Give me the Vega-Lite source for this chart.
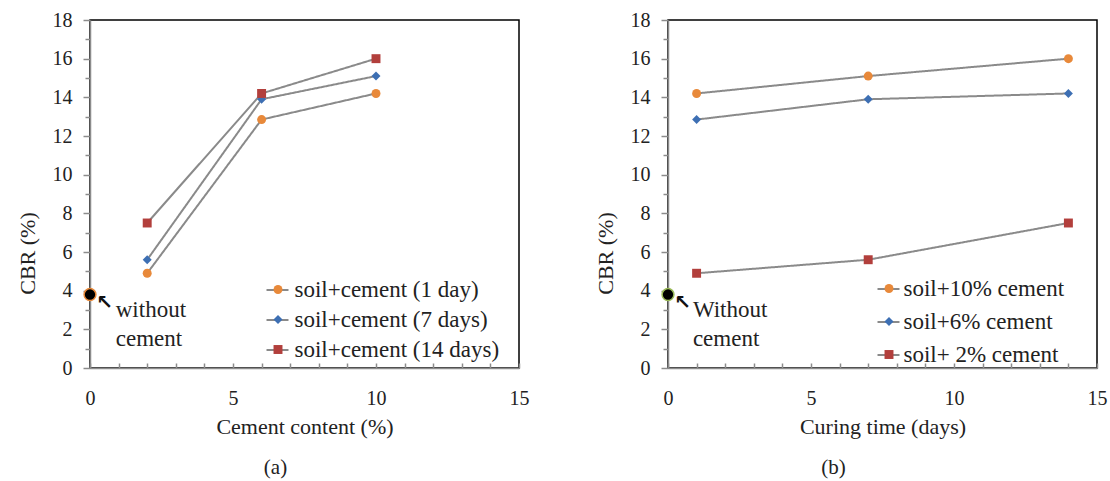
{
  "$schema": "https://vega.github.io/schema/vega-lite/v6.json",
  "padding": {"left": 15, "top": 9, "right": 0, "bottom": 0},
  "spacing": 63,
  "resolve": {
    "scale": {"color": "independent", "shape": "independent", "strokeDash": "independent"},
    "legend": {"color": "independent", "shape": "independent", "strokeDash": "independent"}
  },
  "config": {
    "font": "Liberation Serif",
    "view": {"stroke": "#000", "strokeWidth": 1.5},
    "axis": {
      "grid": false,
      "labelFlush": false,
      "domainColor": "#8c8c8c",
      "domainWidth": 1.5,
      "tickColor": "#8c8c8c",
      "tickWidth": 1.5,
      "labelColor": "#222",
      "labelFontSize": 20,
      "labelFont": "Liberation Serif",
      "titleColor": "#222",
      "titleFontSize": 22,
      "titleFontWeight": "normal",
      "titleFont": "Liberation Serif"
    },
    "legend": {"labelFont": "Liberation Serif", "labelFontSize": 23, "labelColor": "#222", "labelLimit": 400},
    "title": {"font": "Liberation Serif", "fontSize": 21, "fontWeight": "normal", "color": "#222"}
  },
  "datasets": {
    "seriesA": [
      {"x": 2, "y": 4.9, "s": "soil+cement (1 day)", "g": "soil+cement (1 day)"},
      {"x": 6, "y": 12.85, "s": "soil+cement (1 day)", "g": "soil+cement (1 day)"},
      {"x": 10, "y": 14.2, "s": "soil+cement (1 day)", "g": "soil+cement (1 day)"},
      {"x": 2, "y": 5.6, "s": "soil+cement (7 days)", "g": "soil+cement (7 days)"},
      {"x": 6, "y": 13.9, "s": "soil+cement (7 days)", "g": "soil+cement (7 days)"},
      {"x": 10, "y": 15.1, "s": "soil+cement (7 days)", "g": "soil+cement (7 days)"},
      {"x": 2, "y": 7.5, "s": "soil+cement (14 days)", "g": "soil+cement (14 days)"},
      {"x": 6, "y": 14.2, "s": "soil+cement (14 days)", "g": "soil+cement (14 days)"},
      {"x": 10, "y": 16.0, "s": "soil+cement (14 days)", "g": "soil+cement (14 days)"}
    ],
    "seriesB": [
      {"x": 1, "y": 14.2, "s": "soil+10% cement", "g": "soil+10% cement"},
      {"x": 7, "y": 15.1, "s": "soil+10% cement", "g": "soil+10% cement"},
      {"x": 14, "y": 16.0, "s": "soil+10% cement", "g": "soil+10% cement"},
      {"x": 1, "y": 12.85, "s": "soil+6% cement", "g": "soil+6% cement"},
      {"x": 7, "y": 13.9, "s": "soil+6% cement", "g": "soil+6% cement"},
      {"x": 14, "y": 14.2, "s": "soil+6% cement", "g": "soil+6% cement"},
      {"x": 1, "y": 4.9, "s": "soil+ 2% cement", "g": "soil+ 2% cement"},
      {"x": 7, "y": 5.6, "s": "soil+ 2% cement", "g": "soil+ 2% cement"},
      {"x": 14, "y": 7.5, "s": "soil+ 2% cement", "g": "soil+ 2% cement"}
    ],
    "base": [{"x": 0, "y": 3.8}],
    "notesA": [
      {"x": 0.9, "y": 3.0, "t": "without"},
      {"x": 0.9, "y": 1.5, "t": "cement"}
    ],
    "notesB": [
      {"x": 0.87, "y": 3.0, "t": "Without"},
      {"x": 0.87, "y": 1.5, "t": "cement"}
    ],
    "arrow": [{"x": 0.5, "y": 3.35, "t": "↖"}]
  },
  "hconcat": [
    {
      "width": 429,
      "height": 348,
      "title": {"text": "(a)", "orient": "bottom", "dx": -29, "offset": 20},
      "encoding": {
        "x": {"field": "x", "type": "quantitative",
          "scale": {"domain": [0, 15], "nice": false, "zero": false},
          "axis": {"title": "Cement content (%)", "values": [0,1,2,3,4,5,6,7,8,9,10,11,12,13,14,15],
            "labelExpr": "datum.value % 5 === 0 ? datum.label : ''", "tickSize": -5, "labelPadding": 25, "titlePadding": 8}},
        "y": {"field": "y", "type": "quantitative",
          "scale": {"domain": [0, 18], "nice": false},
          "axis": {"title": "CBR (%)", "values": [0,1,2,3,4,5,6,7,8,9,10,11,12,13,14,15,16,17,18],
            "labelExpr": "datum.value % 2 === 0 ? datum.label : ''",
            "tickSize": {"condition": {"test": "datum.value % 2 === 0", "value": 7}, "value": 5},
            "labelPadding": 11, "titlePadding": 13, "titleY": 233}}
      },
      "layer": [
        {
          "data": {"name": "seriesA"},
          "mark": {"type": "line", "color": "#8a8a8a", "strokeWidth": 2},
          "encoding": {
            "strokeDash": {"field": "g", "type": "nominal",
              "sort": ["soil+cement (1 day)", "soil+cement (7 days)", "soil+cement (14 days)"],
              "scale": {"range": [[1, 0], [1, 0], [1, 0]]},
              "legend": {"orient": "none", "legendX": 175.5, "legendY": 258, "title": null,
                "symbolType": "stroke", "symbolSize": 484, "symbolStrokeColor": "#8a8a8a", "symbolStrokeWidth": 2,
                "labelExpr": "''", "rowPadding": 6, "labelOffset": 5, "zindex": 1}}
          }
        },
        {
          "data": {"name": "seriesA"},
          "mark": {"type": "point", "filled": true, "opacity": 1, "size": 80},
          "encoding": {
            "color": {"field": "s", "type": "nominal",
              "scale": {"domain": ["soil+cement (1 day)", "soil+cement (7 days)", "soil+cement (14 days)"],
                "range": ["#E8893A", "#3D6FB3", "#B23F3C"]},
              "legend": {"orient": "none", "legendX": 176.5, "legendY": 258, "title": null,
                "symbolSize": 80, "rowPadding": 6, "labelOffset": 5, "zindex": 2}},
            "shape": {"field": "s", "type": "nominal",
              "scale": {"domain": ["soil+cement (1 day)", "soil+cement (7 days)", "soil+cement (14 days)"],
                "range": ["circle", "diamond", "square"]},
              "legend": {"orient": "none", "legendX": 176.5, "legendY": 258, "title": null,
                "symbolSize": 80, "rowPadding": 6, "labelOffset": 5, "zindex": 2}}
          }
        },
        {
          "data": {"name": "base"},
          "mark": {"type": "point", "filled": true, "fill": "#000", "stroke": "#E8893A", "strokeWidth": 1.5, "size": 140, "opacity": 1}
        },
        {
          "data": {"name": "notesA"},
          "mark": {"type": "text", "align": "left", "baseline": "middle", "fontSize": 23, "font": "Liberation Serif", "color": "#222"},
          "encoding": {"text": {"field": "t"}}
        },
        {
          "data": {"name": "arrow"},
          "mark": {"type": "text", "align": "center", "baseline": "middle", "fontSize": 20, "font": "DejaVu Sans", "fontWeight": "bold", "color": "#111"},
          "encoding": {"text": {"field": "t"}}
        }
      ]
    },
    {
      "width": 429,
      "height": 348,
      "title": {"text": "(b)", "orient": "bottom", "dx": -49, "offset": 20},
      "encoding": {
        "x": {"field": "x", "type": "quantitative",
          "scale": {"domain": [0, 15], "nice": false, "zero": false},
          "axis": {"title": "Curing time (days)", "values": [0,1,2,3,4,5,6,7,8,9,10,11,12,13,14,15],
            "labelExpr": "datum.value % 5 === 0 ? datum.label : ''", "tickSize": -5, "labelPadding": 25, "titlePadding": 8}},
        "y": {"field": "y", "type": "quantitative",
          "scale": {"domain": [0, 18], "nice": false},
          "axis": {"title": "CBR (%)", "values": [0,1,2,3,4,5,6,7,8,9,10,11,12,13,14,15,16,17,18],
            "labelExpr": "datum.value % 2 === 0 ? datum.label : ''",
            "tickSize": {"condition": {"test": "datum.value % 2 === 0", "value": 7}, "value": 5},
            "labelPadding": 11, "titlePadding": 13, "titleY": 233}}
      },
      "layer": [
        {
          "data": {"name": "seriesB"},
          "mark": {"type": "line", "color": "#8a8a8a", "strokeWidth": 2},
          "encoding": {
            "strokeDash": {"field": "g", "type": "nominal",
              "sort": ["soil+10% cement", "soil+6% cement", "soil+ 2% cement"],
              "scale": {"range": [[1, 0], [1, 0], [1, 0]]},
              "legend": {"orient": "none", "legendX": 208.5, "legendY": 257, "title": null,
                "symbolType": "stroke", "symbolSize": 484, "symbolStrokeColor": "#8a8a8a", "symbolStrokeWidth": 2,
                "labelExpr": "''", "rowPadding": 9, "labelOffset": 3, "zindex": 1}}
          }
        },
        {
          "data": {"name": "seriesB"},
          "mark": {"type": "point", "filled": true, "opacity": 1, "size": 80},
          "encoding": {
            "color": {"field": "s", "type": "nominal",
              "scale": {"domain": ["soil+10% cement", "soil+6% cement", "soil+ 2% cement"],
                "range": ["#E8893A", "#3D6FB3", "#B23F3C"]},
              "legend": {"orient": "none", "legendX": 209.5, "legendY": 257, "title": null,
                "symbolSize": 80, "rowPadding": 9, "labelOffset": 3, "zindex": 2}},
            "shape": {"field": "s", "type": "nominal",
              "scale": {"domain": ["soil+10% cement", "soil+6% cement", "soil+ 2% cement"],
                "range": ["circle", "diamond", "square"]},
              "legend": {"orient": "none", "legendX": 209.5, "legendY": 257, "title": null,
                "symbolSize": 80, "rowPadding": 9, "labelOffset": 3, "zindex": 2}}
          }
        },
        {
          "data": {"name": "base"},
          "mark": {"type": "point", "filled": true, "fill": "#000", "stroke": "#9BBB59", "strokeWidth": 1.5, "size": 140, "opacity": 1}
        },
        {
          "data": {"name": "notesB"},
          "mark": {"type": "text", "align": "left", "baseline": "middle", "fontSize": 23, "font": "Liberation Serif", "color": "#222"},
          "encoding": {"text": {"field": "t"}}
        },
        {
          "data": {"name": "arrow"},
          "mark": {"type": "text", "align": "center", "baseline": "middle", "fontSize": 20, "font": "DejaVu Sans", "fontWeight": "bold", "color": "#111"},
          "encoding": {"text": {"field": "t"}}
        }
      ]
    }
  ]
}
